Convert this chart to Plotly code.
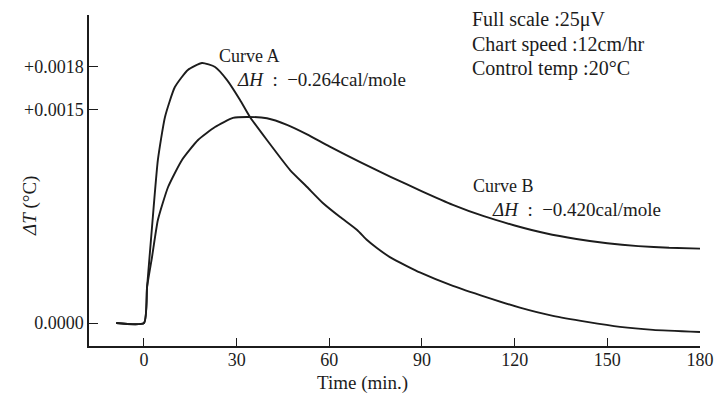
import plotly.graph_objects as go

# ---- data ----
time_a = [-9, 0, 1.0, 2.6, 4.5, 6.8, 10.0, 14.2, 18.8, 23.0, 26.9, 31.1, 34.3, 39.8, 47.3,
          52.8, 57.9, 63.5, 69.0, 72.2, 75.4, 79.6, 85.1, 89.3, 100.0, 111.0, 121.7,
          132.4, 143.4, 154.1, 164.8, 180]
dT_a = [0, 0, 0.000253, 0.000674, 0.001145, 0.001447, 0.001657, 0.001777, 0.001826, 0.001798,
        0.001706, 0.001566, 0.001447, 0.001285, 0.001074, 0.000955, 0.000843, 0.000744,
        0.000653, 0.000583, 0.000527, 0.000463, 0.000400, 0.000355, 0.000260,
        0.000180, 0.000108, 0.000050, 0.000008, -0.000027, -0.000048, -0.000063]

time_b = [-9, 0, 1.0, 2.6, 4.5, 7.8, 12.3, 17.5, 23.0, 28.8, 33.3, 39.8, 46.3, 52.8, 60.0,
          70.0, 80.0, 90.0, 100.0, 110.0, 120.0, 130.0, 140.0, 150.0, 160.0, 170.0, 180]
dT_b = [0, 0, 0.000253, 0.000463, 0.000723, 0.000955, 0.001145, 0.001285, 0.001376, 0.001440,
        0.001447, 0.001438, 0.001392, 0.001325, 0.001240, 0.001130, 0.001025, 0.000925,
        0.000830, 0.000750, 0.000685, 0.000630, 0.000590, 0.000560, 0.000540, 0.000528, 0.000522]

y_tick_vals = [0.0, 0.0015, 0.0018]
y_tick_text = ["0.0000", "+0.0015", "+0.0018"]
x_tick_vals = [0, 30, 60, 90, 120, 150, 180]

x_title = "Time (min.)"
y_title = "<i>ΔT</i> (°C)"
info_lines = ["Full scale :25μV", "Chart speed :12cm/hr", "Control temp :20°C"]
label_a = ["Curve A", "<i>ΔH</i>\u2002:\u2002−0.264cal/mole"]
label_b = ["Curve B", "<i>ΔH</i>\u2002:\u2002−0.420cal/mole"]

# ---- layout geometry ----
W, H = 714, 395
ML, MR, MT, MB = 89, 14, 15, 49
PW, PH = W - ML - MR, H - MT - MB


def px(x):
    return (x - ML) / PW


def py(y):
    return (H - MB - y) / PH


FONT = "Liberation Serif, DejaVu Serif, serif"
INK = "#1c1c1c"

fig = go.Figure()
for tx, ty in ((time_a, dT_a), (time_b, dT_b)):
    fig.add_trace(go.Scatter(x=tx, y=ty, mode="lines",
                             line=dict(color=INK, width=1.9, shape="spline", smoothing=0.5),
                             showlegend=False, hoverinfo="skip"))

ann = []
for i, t in enumerate(info_lines):
    ann.append(dict(text=t, x=px(470), y=py(20 + 24 * i), xref="paper", yref="paper",
                    xanchor="left", yanchor="middle", showarrow=False,
                    font=dict(family=FONT, size=20, color=INK)))
for text, x, y, s in ((label_a[0], 217, 56, 18), (label_a[1], 235, 79, 19),
                      (label_b[0], 471, 186, 18), (label_b[1], 490, 209, 19)):
    ann.append(dict(text=text, x=px(x), y=py(y), xref="paper", yref="paper",
                    xanchor="left", yanchor="middle", showarrow=False,
                    font=dict(family=FONT, size=s, color=INK)))
ann.append(dict(text=x_title, x=px(362), y=py(383), xref="paper", yref="paper",
                xanchor="center", yanchor="middle", showarrow=False,
                font=dict(family=FONT, size=19, color=INK)))
ann.append(dict(text=y_title, x=px(30), y=py(206), xref="paper", yref="paper",
                xanchor="center", yanchor="middle", showarrow=False, textangle=-90,
                font=dict(family=FONT, size=19, color=INK)))

fig.update_layout(
    width=W, height=H,
    margin=dict(l=ML, r=MR, t=MT, b=MB),
    paper_bgcolor="white", plot_bgcolor="white",
    font=dict(family=FONT, size=18, color=INK),
    annotations=ann,
    xaxis=dict(range=[-17.8, 180], tickvals=x_tick_vals, ticks="inside", ticklen=8,
               tickcolor=INK, showline=True, linecolor=INK, linewidth=1.5,
               showgrid=False, zeroline=False, tickfont=dict(size=18), automargin=False,
               ticklabelstandoff=-3),
    yaxis=dict(range=[-0.0001615, 0.002163], tickvals=y_tick_vals, ticktext=y_tick_text,
               ticks="inside", ticklen=9, tickcolor=INK, showline=True, linecolor=INK,
               linewidth=1.5, showgrid=False, zeroline=False, tickfont=dict(size=18),
               automargin=False),
)

fig.write_html("out.html")
